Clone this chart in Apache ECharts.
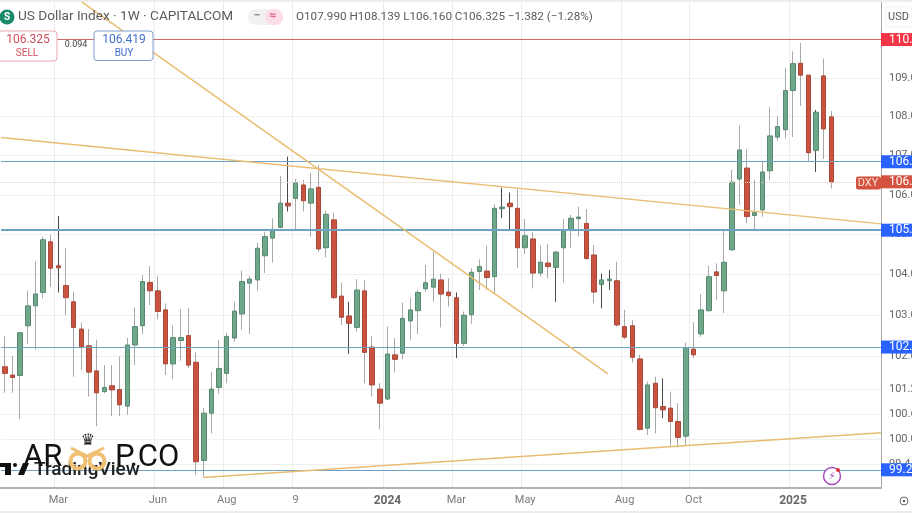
<!DOCTYPE html>
<html>
<head>
<meta charset="utf-8">
<title>US Dollar Index</title>
<script src="https://cdn.jsdelivr.net/npm/echarts@6/dist/echarts.min.js"></script>
<style>
html, body { margin: 0; padding: 0; background: #fff; }
#chart { width: 912px; height: 513px; }
</style>
</head>
<body>
<div id="chart"></div>
<script>
// weekly bars, the last few weeks stay empty (right margin of the chart)
var weeks = [
 '2023-01-16','2023-01-23','2023-01-30','2023-02-06','2023-02-13','2023-02-20','2023-02-27','2023-03-06','2023-03-13','2023-03-20',
 '2023-03-27','2023-04-03','2023-04-10','2023-04-17','2023-04-24','2023-05-01','2023-05-08','2023-05-15','2023-05-22','2023-05-29',
 '2023-06-05','2023-06-12','2023-06-19','2023-06-26','2023-07-03','2023-07-10','2023-07-17','2023-07-24','2023-07-31','2023-08-07',
 '2023-08-14','2023-08-21','2023-08-28','2023-09-04','2023-09-11','2023-09-18','2023-09-25','2023-10-02','2023-10-09','2023-10-16',
 '2023-10-23','2023-10-30','2023-11-06','2023-11-13','2023-11-20','2023-11-27','2023-12-04','2023-12-11','2023-12-18','2023-12-25',
 '2024-01-01','2024-01-08','2024-01-15','2024-01-22','2024-01-29','2024-02-05','2024-02-12','2024-02-19','2024-02-26','2024-03-04',
 '2024-03-11','2024-03-18','2024-03-25','2024-04-01','2024-04-08','2024-04-15','2024-04-22','2024-04-29','2024-05-06','2024-05-13',
 '2024-05-20','2024-05-27','2024-06-03','2024-06-10','2024-06-17','2024-06-24','2024-07-01','2024-07-08','2024-07-15','2024-07-22',
 '2024-07-29','2024-08-05','2024-08-12','2024-08-19','2024-08-26','2024-09-02','2024-09-09','2024-09-16','2024-09-23','2024-09-30',
 '2024-10-07','2024-10-14','2024-10-21','2024-10-28','2024-11-04','2024-11-11','2024-11-18','2024-11-25','2024-12-02','2024-12-09',
 '2024-12-16','2024-12-23','2024-12-30','2025-01-06','2025-01-13','2025-01-20','2025-01-27','2025-02-03','2025-02-10','2025-02-17',
 '2025-02-24','2025-03-03','2025-03-10','2025-03-17','2025-03-24'
];

var opens = [
 101.74,101.54,101.53,102.74,103.23,103.56,104.82,104.22,103.73,103.33,
 102.66,102.25,101.64,101.14,101.28,101.19,100.79,102.27,102.74,103.81,
 103.60,103.13,101.81,102.38,102.50,101.85,99.49,100.62,101.24,101.58,
 102.44,103.03,103.79,103.87,104.47,104.91,105.18,105.79,105.91,106.25,
 105.79,106.19,104.67,105.37,103.47,102.98,102.70,103.60,102.22,101.20,
 100.96,102.03,102.07,102.86,103.11,103.65,103.69,103.87,103.57,103.43,
 102.31,103.01,104.08,104.09,103.95,105.65,105.79,105.66,104.67,104.89,
 104.04,104.29,104.18,104.67,105.12,105.40,105.28,104.49,103.76,103.85,
 103.85,102.72,102.74,101.93,100.26,101.34,100.78,100.74,100.42,100.07,
 102.17,102.54,103.11,104.07,103.60,104.62,106.40,106.68,105.48,105.62,
 106.61,107.47,107.66,108.67,109.38,109.07,107.13,109.05,107.99
];
var closes = [
 101.58,101.48,102.57,103.23,103.52,104.87,104.16,104.17,103.43,102.70,
 102.22,101.61,101.11,101.24,101.18,100.82,102.27,102.72,103.83,103.60,
 103.09,101.81,102.45,102.45,101.78,99.46,100.62,101.20,101.70,102.48,
 103.10,103.83,103.89,104.66,104.95,105.13,105.79,105.72,106.31,105.85,
 106.15,104.64,105.51,103.43,102.95,102.80,103.62,102.09,101.30,100.86,
 102.05,101.92,102.92,103.13,103.56,103.80,103.89,103.52,103.48,102.31,
 103.00,104.06,104.20,103.93,105.66,105.69,105.70,104.67,104.97,104.04,
 104.31,104.20,104.56,105.10,105.41,105.44,104.40,103.57,103.87,103.89,
 102.76,102.46,101.97,100.23,101.30,100.75,100.70,100.42,100.04,102.21,
 102.03,103.13,103.95,103.98,104.31,106.32,107.14,105.45,105.55,106.58,
 107.50,107.74,108.67,109.37,109.07,107.07,108.11,107.68,106.325
];
var lows = [
 101.11,101.11,100.48,102.30,102.15,103.42,103.70,103.56,103.00,101.50,
 101.66,101.02,100.31,101.10,100.55,100.55,100.58,101.78,102.54,103.25,
 102.90,101.54,101.44,101.89,101.71,99.15,99.09,100.14,101.09,101.34,
 102.35,102.64,102.54,103.60,104.04,104.30,105.16,105.58,105.13,105.58,
 104.95,104.57,104.43,103.40,102.76,102.05,102.60,101.34,101.02,100.23,
 100.94,101.60,101.92,102.40,102.54,103.58,103.33,102.70,103.21,101.95,
 102.25,102.79,103.62,103.62,103.54,105.41,105.09,104.17,104.51,103.66,
 103.95,103.91,103.33,103.81,104.67,104.95,104.38,103.29,103.17,103.62,
 102.72,102.42,101.84,100.20,100.10,100.14,100.50,99.82,99.80,99.84,
 101.95,102.47,103.09,103.38,103.05,104.59,105.75,105.28,105.12,105.45,
 106.38,107.38,107.44,107.47,108.27,106.85,106.58,106.91,106.16
];
var highs = [
 102.49,102.00,102.59,103.60,104.33,104.95,104.99,105.47,104.66,103.58,
 102.82,102.66,102.40,101.78,101.78,101.99,102.44,103.19,103.99,104.22,
 103.97,103.29,102.74,103.15,103.17,102.09,100.74,101.62,102.39,102.56,
 103.33,104.10,103.97,104.80,105.07,105.41,106.48,106.97,106.40,106.38,
 106.56,106.76,105.60,105.55,103.80,103.33,103.89,103.87,102.49,101.34,
 102.72,102.44,103.31,103.43,103.62,104.24,104.57,104.02,103.91,103.56,
 103.09,104.16,104.38,104.72,105.76,106.18,106.06,106.14,105.39,105.06,
 104.72,104.77,104.58,105.39,105.49,105.70,105.64,104.74,104.03,104.12,
 104.32,103.13,102.88,102.03,101.38,101.50,101.46,101.14,100.86,102.33,
 102.83,103.52,104.22,104.28,105.12,106.63,107.76,107.16,106.38,106.85,
 108.24,108.00,109.25,109.69,109.91,109.08,108.17,109.50,108.139
];
// candles whose wick looks dark in the picture
var darkWicks = [7, 37, 45, 59, 65, 66, 72, 78, 79, 86, 106];

var priceTicks = [99.4, 100, 100.6, 101.2, 102, 103, 104, 105, 106, 107, 108, 109];
var dateTicks = { '2023-03-06':'Mar', '2023-06-05':'Jun', '2023-08-07':'Aug', '2023-10-09':'9', '2024-01-01':'2024',
    '2024-03-04':'Mar', '2024-05-06':'May', '2024-08-05':'Aug', '2024-10-07':'Oct', '2025-01-06':'2025' };

var levelValues = [110.0, 106.84, 105.11, 102.22, 99.27];
var levelLabels = ['110.0', '106.8', '105.1', '102.2', '99.27'];
var lastPrice = 106.325;

// trend lines: [week number, price]
var trendA = [[-0.5, 107.46], [114.5, 105.27]];
var trendB = [[10, 111.0], [78.83, 101.57]];
var trendC = [[25.94, 99.09], [114.5, 100.15]];

var upColor = '#6fa78b';
var upBorder = '#55896f';
var downColor = '#c9533f';
var downBorder = '#a8483a';
var wickColor = '#a8a8a8';
var darkWickColor = '#4a4a4a';
var trendColor = '#e8bd72';
var font = 'Roboto, "Noto Sans", sans-serif';

var wickData = [], bodyData = [];
for (var i = 0; i < closes.length; i++) {
    var wc = darkWicks.indexOf(i) >= 0 ? darkWickColor : wickColor;
    wickData.push({
        value: [opens[i], closes[i], lows[i], highs[i]],
        itemStyle: { color: wc, color0: wc, borderColor: wc, borderColor0: wc }
    });
    bodyData.push([opens[i], closes[i], Math.min(opens[i], closes[i]), Math.max(opens[i], closes[i])]);
}

var tagLabel = { show: true, position: 'end', distance: 0, color: '#fff', fontFamily: font, fontSize: 12, width: 23, padding: [1, 0, 1, 8], lineHeight: 11, align: 'left' };

var levelLines = levelValues.map(function (v, i) {
    var isRed = i == 0;
    return {
        yAxis: v,
        lineStyle: { color: isRed ? '#cf6a62' : '#6fa3c4', width: i == 2 ? 2 : 1, type: 'solid', opacity: 1 },
        label: Object.assign({}, tagLabel, { formatter: levelLabels[i], backgroundColor: isRed ? '#f23645' : '#2962ff' })
    };
});
levelLines.push({
    yAxis: lastPrice,
    lineStyle: { color: '#e6cfc3', width: 1, type: 'dotted', opacity: 1 },
    label: Object.assign({}, tagLabel, { formatter: '106.3', backgroundColor: '#d4523f' })
});

function trendSeries(points, width) {
    return {
        type: 'line', xAxisIndex: 1, yAxisIndex: 0, data: points, symbol: 'none', silent: true, clip: true, z: 5,
        lineStyle: { color: trendColor, width: width }
    };
}

var seriesA = trendSeries(trendA, 1.3);
seriesA.markLine = { silent: true, symbol: 'none', animation: false, data: levelLines };

var myChart = echarts.init(document.getElementById('chart'), null, { renderer: 'canvas' });

var option = {
    animation: false,
    backgroundColor: '#ffffff',
    grid: { left: 1, right: 31, top: 2, bottom: 25, show: false, outerBoundsMode: 'none' },
    xAxis: [{
        type: 'category',
        data: weeks,
        axisLine: { show: true, lineStyle: { color: '#b2b2b2', width: 2 } },
        axisTick: { show: false, alignWithLabel: true },
        axisLabel: {
            interval: 0, color: '#7a7a7a', fontSize: 11, fontFamily: font, margin: 7,
            formatter: function (v) {
                var t = dateTicks[v];
                if (!t) return '';
                return t.length == 4 ? '{b|' + t + '}' : t;
            },
            rich: { b: { fontWeight: 'bold', color: '#666', fontSize: 12, fontFamily: font } }
        },
        splitLine: {
            show: true,
            interval: function (idx, v) { return !!dateTicks[v]; },
            lineStyle: { color: '#ececec' }
        }
    }, {
        type: 'value', min: -0.5, max: 114.5, show: false, splitLine: { show: false }
    }],
    yAxis: [{
        type: 'log', logBase: 10, position: 'right', min: 98.84, max: 110.99, scale: true,
        axisLine: { show: true, onZero: false, lineStyle: { color: '#a8a8a8', width: 1 } },
        axisTick: { show: false, customValues: priceTicks },
        axisLabel: {
            customValues: priceTicks, color: '#666', fontSize: 11, fontFamily: font, margin: 8,
            formatter: function (v) { return v.toFixed(1); }
        },
        splitLine: { show: true, lineStyle: { color: '#efefef' } }
    }],
    series: [
        {
            type: 'candlestick', data: wickData, silent: true, barWidth: 1, z: 3,
            itemStyle: { borderWidth: 1 }
        },
        {
            type: 'candlestick', data: bodyData, silent: true, barWidth: 5, z: 4,
            itemStyle: { color: upColor, color0: downColor, borderColor: upBorder, borderColor0: downBorder, borderWidth: 1 }
        },
        seriesA,
        trendSeries(trendB, 1.5),
        trendSeries(trendC, 1.5)
    ],
    graphic: [
        { type: 'rect', z: 20, shape: { x: 0, y: 0, width: 912, height: 2 }, style: { fill: '#ececec' } },
        { type: 'rect', z: 20, shape: { x: 0, y: 511, width: 912, height: 2 }, style: { fill: '#ececec' } },
        { type: 'circle', z: 20, shape: { cx: 7, cy: 17, r: 7.5 }, style: { fill: '#1a8a6c' } },
        { type: 'text', z: 21, x: 7, y: 17, style: { text: 'S', fill: '#fff', font: 'bold 10px ' + font, align: 'center', verticalAlign: 'middle' } },
        { type: 'text', z: 21, x: 18, y: 17, style: { text: 'US Dollar Index · 1W · CAPITALCOM', fill: '#5b5b5b', font: '13.6px ' + font, verticalAlign: 'middle' } },
        { type: 'rect', z: 20, shape: { x: 248, y: 9, width: 35, height: 16, r: 8 }, style: { fill: '#f1f1f1' } },
        { type: 'rect', z: 20, shape: { x: 265, y: 9, width: 18, height: 16, r: 8 }, style: { fill: '#fbdde6' } },
        { type: 'text', z: 21, x: 257, y: 16, style: { text: '−', fill: '#888', font: 'bold 12px ' + font, align: 'center', verticalAlign: 'middle' } },
        { type: 'text', z: 21, x: 273, y: 16, style: { text: '≈', fill: '#e0557f', font: 'bold 12px ' + font, align: 'center', verticalAlign: 'middle' } },
        { type: 'text', z: 21, x: 296, y: 17, style: { text: 'O107.990 H108.139 L106.160 C106.325 −1.382 (−1.28%)', fill: '#5b5b5b', font: '11.7px ' + font, verticalAlign: 'middle' } },
        // sell / buy boxes
        { type: 'rect', z: 20, shape: { x: -3, y: 31, width: 60, height: 30, r: 3 }, style: { fill: '#fff', stroke: '#e8a7ae', lineWidth: 1 } },
        { type: 'text', z: 21, x: 28, y: 40, style: { text: '106.325', fill: '#cf4d5c', font: '12px ' + font, align: 'center', verticalAlign: 'middle' } },
        { type: 'text', z: 21, x: 27, y: 53, style: { text: 'SELL', fill: '#cf4d5c', font: '10px ' + font, align: 'center', verticalAlign: 'middle' } },
        { type: 'text', z: 21, x: 76, y: 45, style: { text: '0.094', fill: '#444', font: '9px ' + font, align: 'center', verticalAlign: 'middle' } },
        { type: 'rect', z: 20, shape: { x: 94, y: 31, width: 59, height: 29.5, r: 3 }, style: { fill: '#fff', stroke: '#7ba0cf', lineWidth: 1 } },
        { type: 'text', z: 21, x: 124, y: 40, style: { text: '106.419', fill: '#3f6fc9', font: '12px ' + font, align: 'center', verticalAlign: 'middle' } },
        { type: 'text', z: 21, x: 124, y: 53, style: { text: 'BUY', fill: '#3f6fc9', font: '10px ' + font, align: 'center', verticalAlign: 'middle' } },
        // price pane
        { type: 'rect', z: 20, shape: { x: 886, y: 7, width: 26, height: 20, r: 3 }, style: { fill: '#fff', stroke: '#f2f2f2' } },
        { type: 'text', z: 21, x: 888, y: 17, style: { text: 'USD', fill: '#555', font: '11px ' + font, verticalAlign: 'middle' } },
        { type: 'rect', z: 20, shape: { x: 856, y: 176.5, width: 25, height: 13, r: 2 }, style: { fill: '#d4523f' } },
        { type: 'text', z: 21, x: 868, y: 183, style: { text: 'DXY', fill: '#f6e3d8', font: '11px ' + font, align: 'center', verticalAlign: 'middle' } },
        { type: 'circle', z: 20, shape: { cx: 904, cy: 501, r: 4 }, style: { fill: 'none', stroke: '#666', lineWidth: 1 } },
        { type: 'circle', z: 20, shape: { cx: 904, cy: 501, r: 1.3 }, style: { fill: '#666' } },
        // lightning badge
        { type: 'circle', z: 20, shape: { cx: 832, cy: 476, r: 8.5 }, style: { fill: '#fff', stroke: '#a64cb8', lineWidth: 1.5 } },
        { type: 'text', z: 21, x: 832, y: 476, style: { text: '⚡', fill: '#a64cb8', font: '10px "DejaVu Sans"', align: 'center', verticalAlign: 'middle' } },
        { type: 'circle', z: 22, shape: { cx: 838, cy: 470, r: 2 }, style: { fill: '#e0343c' } },
        // watermarks
        { type: 'rect', z: 20, shape: { x: 0, y: 463, width: 11, height: 4 }, style: { fill: '#111' } },
        { type: 'rect', z: 20, shape: { x: 5, y: 463, width: 6, height: 12 }, style: { fill: '#111' } },
        { type: 'circle', z: 20, shape: { cx: 15, cy: 465, r: 2 }, style: { fill: '#111' } },
        { type: 'polygon', z: 20, shape: { points: [[18, 475], [23, 463], [29, 463], [24, 475]] }, style: { fill: '#111' } },
        { type: 'text', z: 21, x: 34, y: 470, style: { text: 'TradingView', fill: '#222', font: '500 19px ' + font, verticalAlign: 'middle' } },
        { type: 'text', z: 22, x: 23, y: 458, style: { text: 'AR', fill: '#111', font: '31px ' + font, verticalAlign: 'middle' } },
        { type: 'text', z: 22, x: 115, y: 458, style: { text: 'P.CO', fill: '#111', font: '31px ' + font, verticalAlign: 'middle' } },
        { type: 'circle', z: 22, shape: { cx: 78, cy: 461, r: 7.5 }, style: { fill: 'none', stroke: '#f0bf72', lineWidth: 4 } },
        { type: 'circle', z: 22, shape: { cx: 97, cy: 461, r: 7.5 }, style: { fill: 'none', stroke: '#f0bf72', lineWidth: 4 } },
        { type: 'polyline', z: 22, shape: { points: [[71, 448], [87, 456], [104, 448]] }, style: { fill: 'none', stroke: '#f0bf72', lineWidth: 3 } },
        { type: 'text', z: 22, x: 88, y: 441, style: { text: '♛', fill: '#222', font: '16px "DejaVu Sans"', align: 'center', verticalAlign: 'middle' } }
    ]
};

myChart.setOption(option);
</script>
</body>
</html>
